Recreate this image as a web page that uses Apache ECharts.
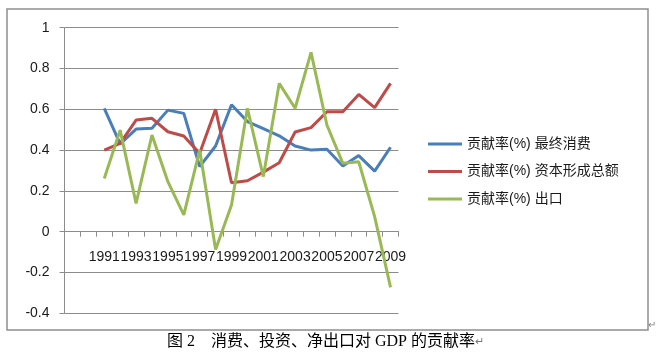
<!DOCTYPE html>
<html>
<head>
<meta charset="utf-8">
<script src="https://cdn.jsdelivr.net/npm/echarts@6/dist/echarts.min.js"></script>
<style>
html,body{margin:0;padding:0;background:#fff;}
#c{width:662px;height:358px;}
</style>
</head>
<body>
<div id="c"></div>
<script>
// Data
const years = ['1991','1992','1993','1994','1995','1996','1997','1998','1999','2000',
               '2001','2002','2003','2004','2005','2006','2007','2008','2009'];
const blankCategories = ['', ''];  // two empty leading categories in the original sheet
const consumption = [0.605,0.430,0.503,0.507,0.596,0.580,0.319,0.420,0.622,0.540,
                     0.505,0.470,0.420,0.400,0.404,0.322,0.373,0.297,0.414];
const capital     = [0.400,0.433,0.547,0.556,0.490,0.469,0.384,0.600,0.240,0.250,
                     0.292,0.338,0.489,0.510,0.588,0.588,0.673,0.608,0.727];
const exportsRate = [0.261,0.498,0.139,0.474,0.245,0.082,0.400,-0.087,0.131,0.605,
                     0.270,0.727,0.605,0.879,0.523,0.335,0.343,0.074,-0.273];
const seriesNames = ['贡献率(%) 最终消费','贡献率(%) 资本形成总额','贡献率(%) 出口'];
const yTicks = {min:-0.4, max:1, interval:0.2};
const caption = '图 2\u3000消费、投资、净出口对 GDP 的贡献率';

const categories = blankCategories.concat(years);
const padData = arr => blankCategories.map(() => '-').concat(arr);
const colors = ['#4a7ebb','#be4b48','#98b954'];

const W = 662, H = 358;
const grid = {left:64.5, right:263.5, top:27.7, bottom:44.7};
const plotH = H - grid.top - grid.bottom;
// shift the category axis from the bottom of the grid up to the value 0
const zeroOffset = -plotH * (0 - yTicks.min) / (yTicks.max - yTicks.min);

const chart = echarts.init(document.getElementById('c'), null, {renderer:'canvas'});
chart.setOption({
  backgroundColor:'#fff',
  animation:false,
  color:colors,
  grid:Object.assign({containLabel:false}, grid),
  xAxis:{
    type:'category',
    data:categories,
    boundaryGap:true,
    position:'bottom',
    offset:zeroOffset,
    axisLine:{onZero:false, lineStyle:{color:'#8c8c8c', width:1}},
    axisTick:{show:true, interval:0, length:5, inside:false, lineStyle:{color:'#8c8c8c'}},
    axisLabel:{interval:1, margin:18, fontSize:14, color:'#1a1a1a', fontFamily:'Liberation Sans'},
    splitLine:{show:false}
  },
  yAxis:{
    type:'value',
    min:yTicks.min, max:yTicks.max, interval:yTicks.interval,
    axisLine:{show:true, onZero:false, lineStyle:{color:'#8c8c8c', width:1}},
    axisTick:{show:true, length:5, lineStyle:{color:'#8c8c8c'}},
    axisLabel:{margin:15, fontSize:14, color:'#1a1a1a', fontFamily:'Liberation Sans'},
    splitLine:{show:true, lineStyle:{color:'#8c8c8c', width:1}}
  },
  legend:{
    orient:'vertical',
    left:428, top:137, padding:0,
    itemWidth:34, itemHeight:3, itemGap:13.5,
    icon:'rect',
    textStyle:{fontSize:14, color:'#1a1a1a', fontFamily:'Liberation Sans, Noto Sans CJK SC'},
    data:seriesNames
  },
  title:{
    text:caption + '{r|↵}',
    left:167, top:334, padding:0,
    textStyle:{fontSize:16, fontWeight:'normal', color:'#000',
      fontFamily:'Liberation Serif, Noto Sans CJK SC',
      rich:{r:{fontSize:11, color:'#777'}}}
  },
  graphic:[
    {type:'rect', shape:{x:7, y:9, width:641, height:321},
     style:{fill:'none', stroke:'#8f8f8f', lineWidth:1.5}, silent:true, z:-1},
    {type:'text', left:648, top:320, style:{text:'↵', fontSize:10, fill:'#888'}}
  ],
  series:[
    {name:seriesNames[0], type:'line', data:padData(consumption), symbol:'none',
     lineStyle:{width:3, color:colors[0]}},
    {name:seriesNames[1], type:'line', data:padData(capital), symbol:'none',
     lineStyle:{width:3, color:colors[1]}},
    {name:seriesNames[2], type:'line', data:padData(exportsRate), symbol:'none',
     lineStyle:{width:3, color:colors[2]}}
  ]
});
</script>
</body>
</html>
